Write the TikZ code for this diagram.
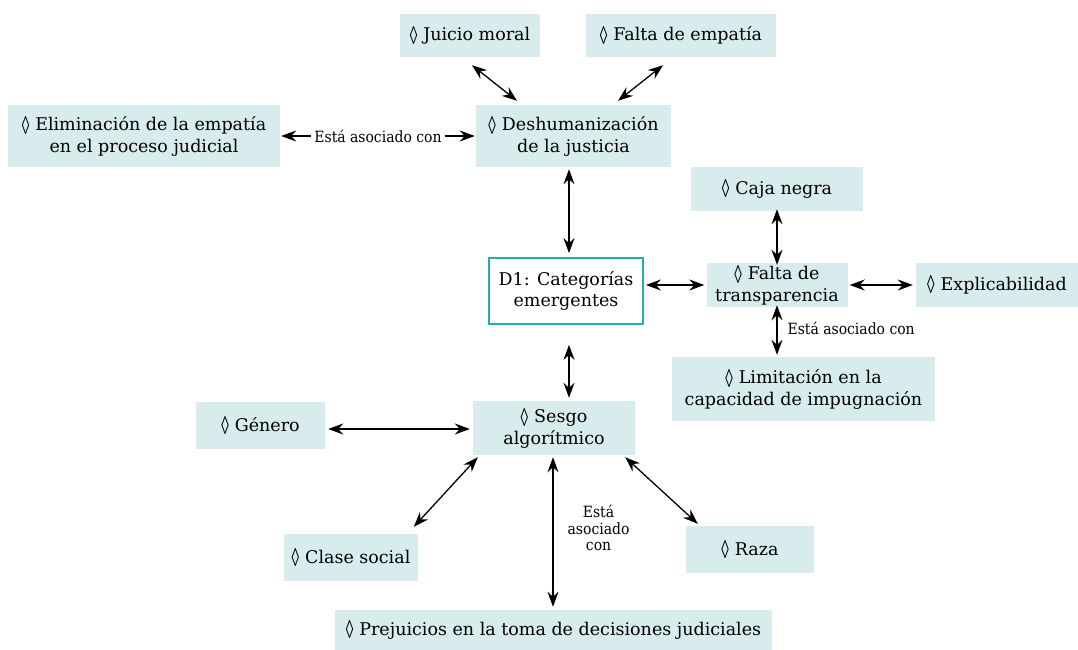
\documentclass[tikz,border=0pt]{standalone}
\usepackage{fontspec}
\usepackage{graphicx}
\setmainfont{DejaVu Serif}
\newfontfamily\labfont{DejaVu Serif Condensed}
\newfontfamily\lozfont{Liberation Serif}
\usetikzlibrary{arrows.meta,calc}
\definecolor{boxfill}{RGB}{216,236,237}
\definecolor{tealborder}{RGB}{32,178,170}
\newcommand{\lz}{\raisebox{-3.5pt}{\resizebox{7.5pt}{18pt}{\lozfont ◊}}\hspace{6pt}}
\tikzset{
  cat/.style={fill=boxfill, draw=none, align=center, inner sep=0pt,
    font=\fontsize{17.5}{21.5}\selectfont},
  central/.style={fill=white, draw=tealborder, line width=1.8pt, align=center, inner sep=0pt,
    font=\fontsize{17.5}{21.5}\selectfont},
  arr/.style={{Stealth[length=15pt,width=11pt,inset=5pt]}-{Stealth[length=15pt,width=11pt,inset=5pt]}, line width=1.3pt, black},
  lab/.style={font=\labfont\fontsize{15.5}{16.5}\selectfont, align=center, inner sep=2pt},
}
\begin{document}
\begin{tikzpicture}[x=1pt,y=-1pt]
\useasboundingbox (0,0) rectangle (1078,650);
% nodes
\node[cat, minimum width=140, minimum height=43] (jm) at (470,35.5) {\lz Juicio moral};
\node[cat, minimum width=190, minimum height=43] (fe) at (681,35.5) {\lz Falta de empatía};
\node[cat, minimum width=272, minimum height=62] (el) at (144,136) {\lz Eliminación de la empatía\\en el proceso judicial};
\node[cat, minimum width=195, minimum height=62] (dh) at (573.5,136) {\lz Deshumanización\\de la justicia};
\node[cat, minimum width=172, minimum height=44] (cn) at (777,189) {\lz Caja negra};
\node[central, minimum width=154, minimum height=66] (d1) at (566,291) {D1: Categorías\\emergentes};
\node[cat, minimum width=141, minimum height=44] (ft) at (777,285) {\lz Falta de\\transparencia};
\node[cat, minimum width=162, minimum height=44] (ex) at (997,285) {\lz Explicabilidad};
\node[cat, minimum width=263, minimum height=64] (li) at (803.5,389) {\lz Limitación en la\\capacidad de impugnación};
\node[cat, minimum width=129, minimum height=47] (ge) at (260.5,425.5) {\lz Género};
\node[cat, minimum width=162, minimum height=54] (sa) at (554,428) {\lz Sesgo\\algorítmico};
\node[cat, minimum width=134, minimum height=47] (cs) at (351,557.5) {\lz Clase social};
\node[cat, minimum width=128, minimum height=47] (ra) at (750,549.5) {\lz Raza};
\node[cat, minimum width=437, minimum height=40] (pj) at (553.5,630) {\lz Prejuicios en la toma de decisiones judiciales};
% connectors
\draw[arr] ([shift={(2,8)}]jm.south) -- ([shift={(-56.5,-4)}]dh.north);
\draw[arr] ([shift={(-18,8)}]fe.south) -- ([shift={(44.5,-4)}]dh.north);
\draw[arr] ([xshift=1]el.east) -- node[lab, fill=white, inner xsep=3pt] {Está asociado con} ([xshift=-1]dh.west);
\draw[arr] ([shift={(-4.5,2)}]dh.south) -- ([shift={(3,-4)}]d1.north);
\draw[arr] ([shift={(2,-6)}]d1.east) -- ([xshift=-2]ft.west);
\draw[arr] ([yshift=2]cn.south) -- ([yshift=-2]ft.north);
\draw[arr] ([xshift=2]ft.east) -- ([xshift=-3]ex.west);
\draw[arr] ([yshift=2]ft.south) -- node[lab, right, xshift=8pt, yshift=2pt] {Está asociado con} ([shift={(-26.5,-2)}]li.north);
\draw[arr] ([shift={(3,20)}]d1.south) -- ([shift={(15,-3)}]sa.north);
\draw[arr] ([shift={(3,3.5)}]ge.east) -- ([shift={(-3,1)}]sa.west);
\draw[arr] ([shift={(5,2)}]sa.south west) -- ([shift={(130,-7)}]cs.north west);
\draw[arr] ([shift={(-1,2)}]sa.south) -- node[lab, right, xshift=12pt, yshift=4pt] {Está\\asociado\\con} ([shift={(-0.5,-3)}]pj.north);
\draw[arr] ([shift={(-10,2)}]sa.south east) -- ([shift={(12,-2)}]ra.north west);
\end{tikzpicture}
\end{document}
